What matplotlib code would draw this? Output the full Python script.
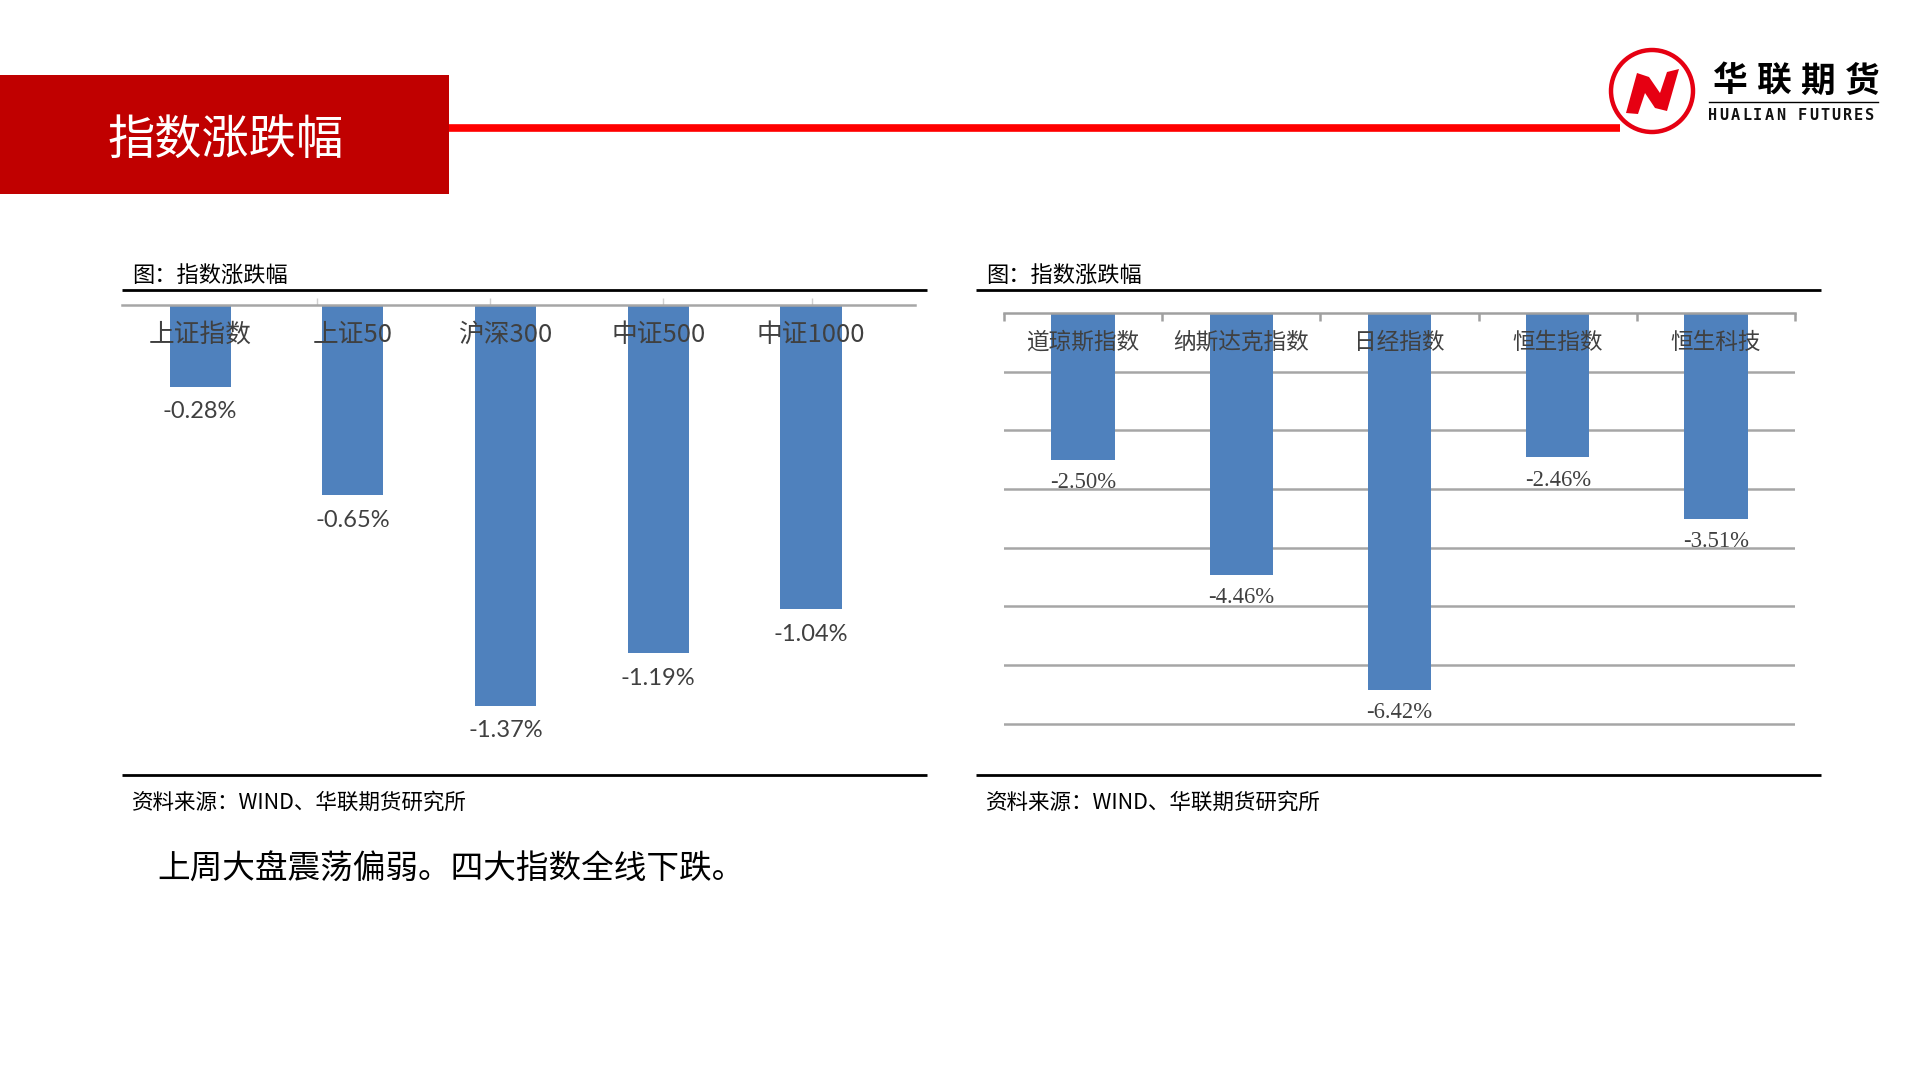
import matplotlib
matplotlib.use("Agg")
import matplotlib.pyplot as plt
from matplotlib.patches import Rectangle, Circle, Polygon

plt.rcParams['font.family'] = ['Noto Sans CJK SC', 'DejaVu Sans']

# data
cn_names = ["上证指数", "上证50", "沪深300", "中证500", "中证1000"]
cn_changes = [-0.28, -0.65, -1.37, -1.19, -1.04]
world_names = ["道琼斯指数", "纳斯达克指数", "日经指数", "恒生指数", "恒生科技"]
world_changes = [-2.50, -4.46, -6.42, -2.46, -3.51]

page_title = "指数涨跌幅"
chart_title = "图：指数涨跌幅"
source_text = "资料来源：WIND、华联期货研究所"
comment = "上周大盘震荡偏弱。四大指数全线下跌。"

BLUE = "#4F81BD"
TXT = "#404040"
W, H = 1920, 1080


def box(x0, y0, x1, y1):
    # pixel rect (top-left origin) -> figure fraction
    return [x0 / W, 1 - y1 / H, (x1 - x0) / W, (y1 - y0) / H]


fig = plt.figure(figsize=(19.2, 10.8), dpi=100)

# page decoration layer in pixel coords
bg = fig.add_axes([0, 0, 1, 1], zorder=0)
bg.set_xlim(0, W)
bg.set_ylim(H, 0)
bg.axis("off")

bg.add_patch(Rectangle((0, 75), 449, 119, color="#C00000", lw=0))
bg.text(226, 141, page_title, color="white", fontsize=34, ha="center", va="center")
bg.plot([449, 1620], [127.5, 127.5], color="#FF0000", lw=5.5, solid_capstyle="butt")

# logo
bg.add_patch(Circle((1652, 91), 41, fill=False, ec="#E60012", lw=3.2))
n_shape = [(1626, 113), (1637, 73), (1649, 77), (1660, 93), (1667, 72), (1679, 69),
           (1667, 111), (1655, 108), (1645, 93), (1638, 114)]
bg.add_patch(Polygon(n_shape, closed=True, color="#E60012", lw=0))
for i, ch in enumerate("华联期货"):
    bg.text(1730 + i * 44, 81, ch, fontsize=25, fontweight="bold", ha="center",
            va="center", color="black")
bg.plot([1709, 1878], [102, 102], color="black", lw=1)
for i, ch in enumerate("HUALIAN FUTURES"):
    bg.text(1713 + i * 11.2, 116, ch, fontsize=11, fontweight="bold", ha="center",
            va="center", color="#111111", family="DejaVu Sans Mono")

# chart frames
for x0, x1 in [(122, 927), (976, 1821)]:
    bg.plot([x0, x1], [290, 290], color="black", lw=2, solid_capstyle="butt")
    bg.plot([x0, x1], [775, 775], color="black", lw=2, solid_capstyle="butt")
    bg.text(x0 + 10, 275, chart_title, fontsize=16, ha="left", va="center", color="black")
    bg.text(x0 + 10, 803, source_text, fontsize=15.5, ha="left", va="center", color="black")

bg.text(157, 870, comment, fontsize=23.5, ha="left", va="center", color="black")

# left chart: domestic indices
px_unit = 292.5
ax1 = fig.add_axes(box(122, 305, 915, 305 + 1.55 * px_unit), zorder=2)
ax1.patch.set_alpha(0)
x = list(range(len(cn_names)))
ax1.bar(x, cn_changes, width=0.4, color=BLUE, zorder=2)
ax1.set_xlim(-0.511, 4.681)
ax1.set_ylim(-1.55, 0)
for s in ["left", "right", "bottom"]:
    ax1.spines[s].set_visible(False)
ax1.spines["top"].set_color("#A6A6A6")
ax1.spines["top"].set_linewidth(1.8)
ax1.xaxis.tick_top()
ax1.set_xticks([0.766, 1.899, 3.031, 4.007])
ax1.set_xticklabels([])
ax1.tick_params(axis="x", direction="out", length=5, color="#D0D0D0", width=1)
ax1.set_yticks([])
for i, (name, v) in enumerate(zip(cn_names, cn_changes)):
    ax1.annotate(name, xy=(i, 0), xytext=(0, -30), textcoords="offset pixels",
                 ha="center", va="center", fontsize=18.5, color=TXT, zorder=3)
    ax1.annotate(f"{v:.2f}%", xy=(i, v), xytext=(0, -25), textcoords="offset pixels",
                 ha="center", va="center", fontsize=17, color=TXT, family="Lato")

# right chart: overseas indices
ax2 = fig.add_axes(box(1004, 313, 1795, 313 + 7.05 * 58.66), zorder=2)
ax2.patch.set_alpha(0)
x = list(range(len(world_names)))
ax2.bar(x, world_changes, width=0.4, color=BLUE, zorder=2)
ax2.set_xlim(-0.5, 4.5)
ax2.set_ylim(-7.05, 0)
for s in ["left", "right", "bottom"]:
    ax2.spines[s].set_visible(False)
ax2.spines["top"].set_color("#A0A0A0")
ax2.spines["top"].set_linewidth(1.8)
ax2.xaxis.tick_top()
ax2.set_xticks([-0.5, 0.5, 1.5, 2.5, 3.5, 4.5])
ax2.set_xticklabels([])
ax2.tick_params(axis="x", direction="in", length=5.5, color="#A0A0A0", width=1.8)
ax2.set_yticks([-1, -2, -3, -4, -5, -6, -7])
ax2.set_yticklabels([])
ax2.tick_params(axis="y", length=0)
ax2.yaxis.grid(True, color="#A6A6A6", lw=1.8)
ax2.set_axisbelow(True)
for i, (name, v) in enumerate(zip(world_names, world_changes)):
    ax2.annotate(name, xy=(i, 0), xytext=(0, -29), textcoords="offset pixels",
                 ha="center", va="center", fontsize=16.3, color=TXT, zorder=3)
    ax2.annotate(f"{v:.2f}%", xy=(i, v), xytext=(0, -23), textcoords="offset pixels",
                 ha="center", va="center", fontsize=16.3, color=TXT,
                 family="Liberation Serif")

fig.savefig("out.png", dpi=100)
